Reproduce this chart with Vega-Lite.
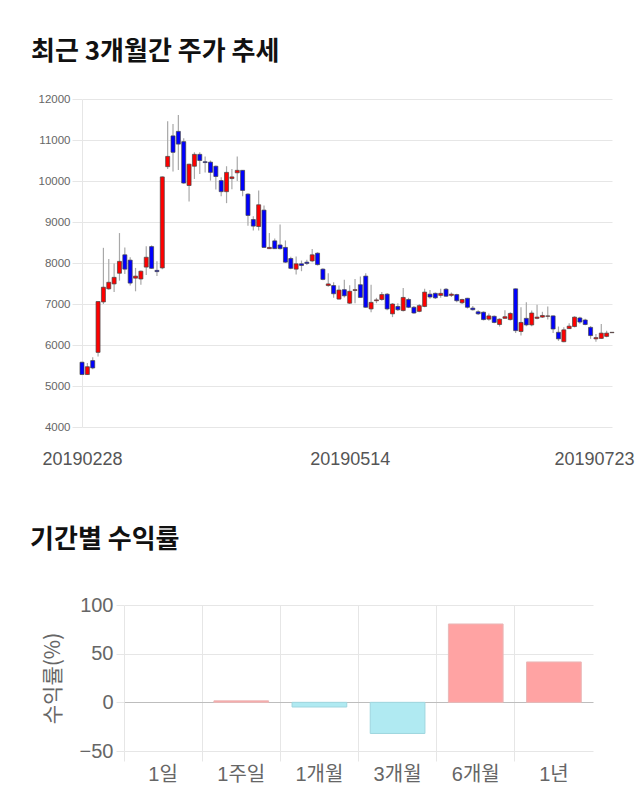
{
  "$schema": "https://vega.github.io/schema/vega-lite/v6.json",
  "background": "white",
  "padding": {"left": 30, "top": 39, "right": 0, "bottom": 0},
  "spacing": 59,
  "config": {
    "view": {"stroke": null},
    "font": "Liberation Sans, Noto Sans CJK KR",
    "title": {"font": "Noto Sans CJK KR", "fontSize": 26, "fontWeight": "bold", "color": "#111111", "anchor": "start"}
  },
  "vconcat": [
    {
      "title": {"text": "최근 3개월간 주가 추세", "dx": -7, "offset": 28},
      "width": 530,
      "height": 328,
      "data": {"values": [
        {"d":"20190228","o":5580,"h":5590,"l":5270,"c":5280},
        {"d":"20190304","o":5280,"h":5560,"l":5270,"c":5470},
        {"d":"20190305","o":5620,"h":5700,"l":5410,"c":5440},
        {"d":"20190306","o":5820,"h":7070,"l":5720,"c":7060},
        {"d":"20190307","o":7050,"h":8370,"l":7000,"c":7410},
        {"d":"20190308","o":7370,"h":8100,"l":7350,"c":7530},
        {"d":"20190311","o":7490,"h":7990,"l":7290,"c":7650},
        {"d":"20190312","o":7750,"h":8730,"l":7570,"c":8040},
        {"d":"20190313","o":8200,"h":8380,"l":7730,"c":7850},
        {"d":"20190314","o":8070,"h":8140,"l":7450,"c":7510},
        {"d":"20190315","o":7630,"h":7880,"l":7310,"c":7680},
        {"d":"20190318","o":7610,"h":7820,"l":7470,"c":7800},
        {"d":"20190319","o":7900,"h":8410,"l":7710,"c":8140},
        {"d":"20190320","o":8400,"h":8430,"l":7860,"c":7870},
        {"d":"20190321","o":7820,"h":8040,"l":7680,"c":7790},
        {"d":"20190322","o":7880,"h":10110,"l":7850,"c":10100},
        {"d":"20190325","o":10350,"h":11460,"l":10290,"c":10600},
        {"d":"20190326","o":11100,"h":11390,"l":10230,"c":10700},
        {"d":"20190327","o":11210,"h":11610,"l":10270,"c":10900},
        {"d":"20190328","o":10960,"h":11040,"l":9930,"c":9950},
        {"d":"20190329","o":9890,"h":10420,"l":9500,"c":10410},
        {"d":"20190401","o":10360,"h":10700,"l":10050,"c":10650},
        {"d":"20190402","o":10650,"h":10700,"l":10170,"c":10500},
        {"d":"20190403","o":10470,"h":10600,"l":10210,"c":10450},
        {"d":"20190404","o":10460,"h":10500,"l":10010,"c":10210},
        {"d":"20190405","o":10360,"h":10380,"l":9790,"c":10110},
        {"d":"20190408","o":10010,"h":10090,"l":9630,"c":9740},
        {"d":"20190409","o":9740,"h":10360,"l":9460,"c":10210},
        {"d":"20190410","o":10060,"h":10290,"l":9800,"c":10100},
        {"d":"20190411","o":10200,"h":10600,"l":10000,"c":10260},
        {"d":"20190412","o":10260,"h":10270,"l":9630,"c":9770},
        {"d":"20190415","o":9680,"h":9700,"l":8910,"c":9160},
        {"d":"20190416","o":9060,"h":9140,"l":8790,"c":8900},
        {"d":"20190417","o":8890,"h":9770,"l":8790,"c":9420},
        {"d":"20190418","o":9290,"h":9400,"l":8370,"c":8380},
        {"d":"20190419","o":8350,"h":8730,"l":8340,"c":8380},
        {"d":"20190422","o":8540,"h":8600,"l":8340,"c":8350},
        {"d":"20190423","o":8440,"h":8940,"l":8330,"c":8350},
        {"d":"20190424","o":8380,"h":8550,"l":8000,"c":8020},
        {"d":"20190425","o":8110,"h":8150,"l":7850,"c":7870},
        {"d":"20190426","o":7850,"h":8160,"l":7720,"c":7980},
        {"d":"20190429","o":7980,"h":8060,"l":7800,"c":7940},
        {"d":"20190430","o":8020,"h":8080,"l":7950,"c":7990},
        {"d":"20190502","o":8050,"h":8340,"l":8020,"c":8200},
        {"d":"20190503","o":8240,"h":8260,"l":7940,"c":7960},
        {"d":"20190507","o":7850,"h":7870,"l":7580,"c":7600},
        {"d":"20190508","o":7450,"h":7750,"l":7420,"c":7490},
        {"d":"20190509","o":7450,"h":7530,"l":7150,"c":7250},
        {"d":"20190510","o":7120,"h":7450,"l":7110,"c":7340},
        {"d":"20190513","o":7350,"h":7590,"l":7160,"c":7200},
        {"d":"20190514","o":7020,"h":7460,"l":7000,"c":7310},
        {"d":"20190515","o":7330,"h":7610,"l":7020,"c":7350},
        {"d":"20190516","o":7470,"h":7670,"l":7150,"c":7160},
        {"d":"20190517","o":7680,"h":7750,"l":6910,"c":6920},
        {"d":"20190520","o":6880,"h":7470,"l":6800,"c":7040},
        {"d":"20190521","o":7080,"h":7150,"l":7020,"c":7100},
        {"d":"20190522","o":7110,"h":7290,"l":7080,"c":7230},
        {"d":"20190523","o":7240,"h":7270,"l":6850,"c":6880},
        {"d":"20190524","o":6760,"h":7020,"l":6680,"c":7000},
        {"d":"20190527","o":6940,"h":7020,"l":6830,"c":6860},
        {"d":"20190528","o":6840,"h":7390,"l":6820,"c":7160},
        {"d":"20190529","o":7110,"h":7150,"l":6900,"c":6920},
        {"d":"20190530","o":6920,"h":6950,"l":6760,"c":6780},
        {"d":"20190531","o":6820,"h":7000,"l":6800,"c":6960},
        {"d":"20190603","o":6940,"h":7370,"l":6920,"c":7290},
        {"d":"20190604","o":7240,"h":7340,"l":7130,"c":7170},
        {"d":"20190605","o":7260,"h":7280,"l":7120,"c":7150},
        {"d":"20190607","o":7210,"h":7370,"l":7150,"c":7260},
        {"d":"20190610","o":7360,"h":7390,"l":7170,"c":7190},
        {"d":"20190611","o":7210,"h":7280,"l":7170,"c":7240},
        {"d":"20190612","o":7230,"h":7250,"l":7040,"c":7080},
        {"d":"20190613","o":7030,"h":7130,"l":7000,"c":7110},
        {"d":"20190614","o":7140,"h":7150,"l":6890,"c":6920},
        {"d":"20190617","o":6900,"h":6950,"l":6840,"c":6860},
        {"d":"20190618","o":6810,"h":6850,"l":6730,"c":6760},
        {"d":"20190619","o":6800,"h":6820,"l":6600,"c":6620},
        {"d":"20190620","o":6630,"h":6770,"l":6590,"c":6710},
        {"d":"20190621","o":6700,"h":6720,"l":6530,"c":6550},
        {"d":"20190624","o":6500,"h":6650,"l":6450,"c":6630},
        {"d":"20190625","o":6650,"h":6850,"l":6640,"c":6690},
        {"d":"20190626","o":6620,"h":6800,"l":6600,"c":6770},
        {"d":"20190627","o":7370,"h":7380,"l":6290,"c":6350},
        {"d":"20190628","o":6330,"h":6920,"l":6230,"c":6550},
        {"d":"20190701","o":6650,"h":7040,"l":6460,"c":6490},
        {"d":"20190702","o":6490,"h":6840,"l":6460,"c":6780},
        {"d":"20190703","o":6650,"h":6980,"l":6630,"c":6680},
        {"d":"20190704","o":6680,"h":6810,"l":6660,"c":6720},
        {"d":"20190705","o":6700,"h":6940,"l":6620,"c":6710},
        {"d":"20190708","o":6710,"h":6720,"l":6290,"c":6390},
        {"d":"20190709","o":6310,"h":6450,"l":6100,"c":6150},
        {"d":"20190710","o":6080,"h":6430,"l":6070,"c":6370},
        {"d":"20190711","o":6400,"h":6530,"l":6390,"c":6460},
        {"d":"20190712","o":6450,"h":6700,"l":6430,"c":6680},
        {"d":"20190715","o":6660,"h":6690,"l":6520,"c":6560},
        {"d":"20190716","o":6610,"h":6640,"l":6480,"c":6500},
        {"d":"20190717","o":6430,"h":6460,"l":6150,"c":6230},
        {"d":"20190718","o":6150,"h":6270,"l":6080,"c":6180},
        {"d":"20190719","o":6160,"h":6510,"l":6150,"c":6290},
        {"d":"20190722","o":6210,"h":6350,"l":6190,"c":6290},
        {"d":"20190723","o":6300,"h":6320,"l":6290,"c":6310}
      ]},
      "encoding": {
        "x": {
          "field": "d", "type": "ordinal", "sort": null,
          "scale": {"type": "point", "padding": 0},
          "axis": {
            "title": null,
            "values": ["20190228", "20190514", "20190723"],
            "labelAngle": 0,
            "ticks": false,
            "domain": false,
            "grid": false,
            "labelFontSize": 18,
            "labelColor": "#555555",
            "labelPadding": 23,
            "labelOverlap": false,
            "labelBound": false,
            "labelOffset": {"condition": {"test": "datum.value == '20190723'", "value": -18}, "value": 0}
          }
        }
      },
      "layer": [
        {
          "mark": {"type": "rule", "color": "#a8a8a8", "strokeWidth": 1.2},
          "encoding": {
            "y": {
              "field": "l", "type": "quantitative",
              "scale": {"domain": [4000, 12000], "nice": false, "zero": false},
              "axis": {
                "title": null,
                "format": "d",
                "values": [4000, 5000, 6000, 7000, 8000, 9000, 10000, 11000, 12000],
                "grid": true,
                "gridColor": "#e6e6e6",
                "tickColor": "#e6e6e6",
                "tickSize": 10,
                "domain": true,
                "domainColor": "#e6e6e6",
                "labelFontSize": 11.5,
                "labelColor": "#666666",
                "labelPadding": 2
              }
            },
            "y2": {"field": "h"}
          }
        },
        {
          "mark": {"type": "bar", "size": 4, "stroke": "#444444", "strokeWidth": 0.7},
          "encoding": {
            "y": {"field": "o", "type": "quantitative"},
            "y2": {"field": "c"},
            "color": {"condition": {"test": "datum.c > datum.o", "value": "#ff0000"}, "value": "#0000ff"}
          }
        }
      ]
    },
    {
      "title": {"text": "기간별 수익률", "dx": -12, "offset": 42},
      "width": 511,
      "height": 146,
      "data": {"values": [
        {"p": "1일", "r": 0},
        {"p": "1주일", "r": 1.5},
        {"p": "1개월", "r": -4.8},
        {"p": "3개월", "r": -32},
        {"p": "6개월", "r": 80.5},
        {"p": "1년", "r": 41.5}
      ]},
      "mark": {"type": "bar", "width": {"band": 0.7}, "strokeWidth": 1},
      "encoding": {
        "x": {
          "field": "p", "type": "nominal", "sort": null,
          "scale": {"type": "band", "paddingInner": 0, "paddingOuter": 0, "range": [42, 511]},
          "axis": {
            "title": null,
            "bandPosition": 0,
            "labelAngle": 0,
            "grid": true,
            "gridColor": "#e6e6e6",
            "ticks": true,
            "tickSize": 10,
            "tickColor": "#e6e6e6",
            "domain": false,
            "labelFontSize": 20,
            "labelColor": "#666666",
            "labelPadding": 3
          }
        },
        "y": {
          "field": "r", "type": "quantitative",
          "scale": {"domain": [-50, 100], "nice": false},
          "axis": {
            "title": "수익률(%)",
            "titleFont": "Noto Sans CJK KR",
            "titleFontSize": 21,
            "titleFontWeight": "normal",
            "titleColor": "#666666",
            "titlePadding": 16,
            "offset": -42,
            "values": [-50, 0, 50, 100],
            "grid": true,
            "gridColor": {"condition": {"test": "datum.value == 0", "value": "#bdbdbd"}, "value": "#e6e6e6"},
            "tickColor": "#e6e6e6",
            "tickSize": 8,
            "domain": false,
            "labelFontSize": 20,
            "labelColor": "#666666",
            "labelPadding": 3
          }
        },
        "color": {"condition": {"test": "datum.r >= 0", "value": "#ffa3a3"}, "value": "#b0eaf2"},
        "stroke": {"condition": {"test": "datum.r >= 0", "value": "#e9b8b8"}, "value": "#9fd6df"},
        "strokeOpacity": {"condition": {"test": "datum.r == 0", "value": 0}, "value": 1}
      }
    }
  ]
}
